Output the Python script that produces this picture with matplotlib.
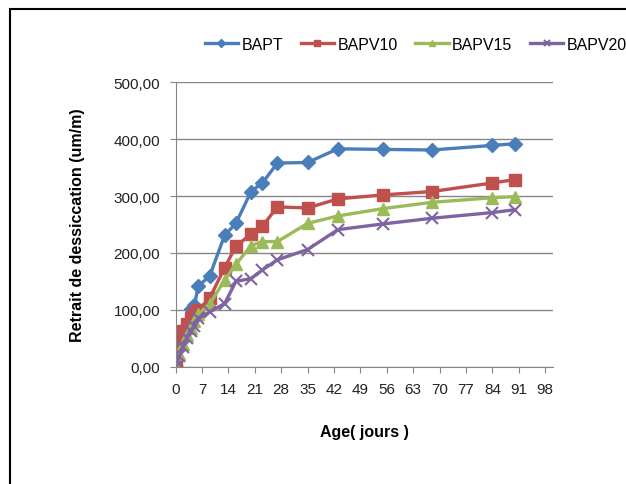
import numpy as np
import matplotlib
matplotlib.use("Agg")
import matplotlib.pyplot as plt
from matplotlib.patches import Rectangle

plt.rcParams['font.family'] = ['Liberation Sans', 'DejaVu Sans']

# days of measurement
jours = [0, 1, 2, 3, 4, 5, 6, 9, 13, 16, 20, 23, 27, 35, 43, 55, 68, 84, 90]
jours_bapt = [0, 1, 4, 5, 6, 9, 13, 16, 20, 23, 27, 35, 43, 55, 68, 84, 90]

bapt = [0, 50, 101, 108, 142, 159, 231, 252, 308, 323, 358, 359, 383, 382, 381, 389, 392]
bapv10 = [0, 48, 62, 75, 85, 95, 100, 120, 174, 212, 233, 247, 281, 279, 295, 302, 308, 323, 329]
bapv15 = [0, 22, 40, 55, 68, 80, 92, 110, 152, 180, 213, 220, 220, 252, 265, 278, 289, 297, 299]
bapv20 = [0, 18, 35, 50, 62, 72, 85, 96, 111, 150, 155, 170, 188, 206, 241, 251, 261, 271, 276]

fig = plt.figure(figsize=(6.26, 4.85), dpi=100)
ax = fig.add_axes([0.2805, 0.2418, 0.6025, 0.5865])

ax.plot(jours_bapt, bapt, color='#4A7EBB', marker='D', ms=7, lw=2.4, label='BAPT')
ax.plot(jours, bapv10, color='#C0504D', marker='s', ms=8, lw=2.4, label='BAPV10')
ax.plot(jours, bapv15, color='#9BBB59', marker='^', ms=8, lw=2.4, label='BAPV15')
ax.plot(jours, bapv20, color='#8064A2', marker='x', ms=8, mew=1.5, lw=2.4, label='BAPV20')

ax.set_xlim(0, 100)
ax.set_ylim(0, 500)
ax.set_xticks(np.arange(0, 99, 7))
ax.set_yticks(np.arange(0, 501, 100))
ax.set_yticklabels(['%d,00' % v for v in range(0, 501, 100)])
ax.yaxis.grid(True, color='#868686', lw=1)
ax.set_axisbelow(True)
for s in ['top', 'right']:
    ax.spines[s].set_visible(False)
for s in ['left', 'bottom']:
    ax.spines[s].set_color('#868686')
ax.tick_params(axis='both', colors='#868686', labelcolor='#222222', labelsize=11, length=4)
ax.tick_params(axis='x', pad=7)
ax.tick_params(axis='y', pad=7)

ax.set_ylabel('Retrait de dessiccation (um/m)', fontsize=11.5, fontweight='bold', labelpad=21)
ax.set_xlabel('Age( jours )', fontsize=11.5, fontweight='bold', labelpad=20)

fig.legend(loc='center left', bbox_to_anchor=(0.327, 0.907), ncol=4, frameon=False,
           fontsize=11.5, handlelength=2.1, handletextpad=0.2, columnspacing=1.1,
           borderpad=0, borderaxespad=0, markerscale=0.6)

fig.patches.append(Rectangle((0.016, -0.5), 1.5, 1.479, transform=fig.transFigure,
                             fill=False, edgecolor='black', lw=1.5))

fig.savefig('out.png', dpi=100)
